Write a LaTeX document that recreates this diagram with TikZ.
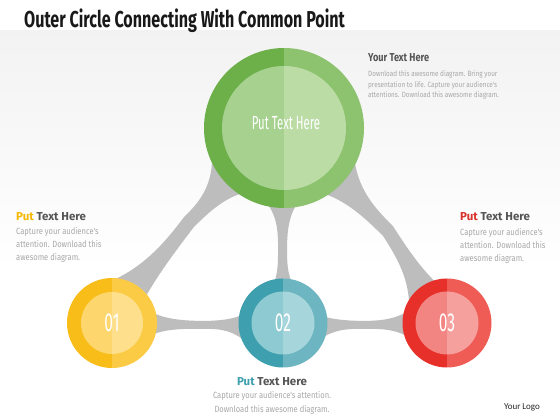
\documentclass[tikz,border=0pt]{standalone}
\usepackage{fontspec}
\setmainfont{Fira Sans}
\newfontfamily\fT[FakeStretch=0.7]{Fira Sans}
\newfontfamily\fN[FakeStretch=0.6]{Fira Sans}
\newfontfamily\fHa[FakeStretch=0.8]{Fira Sans}
\newfontfamily\fH{Fira Sans}
\newfontfamily\fB[FakeStretch=0.84]{Fira Sans}
\newfontfamily\fL{Carlito}
\usetikzlibrary{calc}
\definecolor{gOd}{HTML}{6DB04A}\definecolor{gOl}{HTML}{8DC26F}
\definecolor{gId}{HTML}{A6D18E}\definecolor{gIl}{HTML}{BCDCA6}
\definecolor{yOd}{HTML}{F8BD19}\definecolor{yOl}{HTML}{FBCB45}
\definecolor{yId}{HTML}{FDD66D}\definecolor{yIl}{HTML}{FEE08C}
\definecolor{tOd}{HTML}{3E9FAE}\definecolor{tOl}{HTML}{6DB5C0}
\definecolor{tId}{HTML}{8ECAD2}\definecolor{tIl}{HTML}{A6D5DC}
\definecolor{rOd}{HTML}{E8302A}\definecolor{rOl}{HTML}{EF5B55}
\definecolor{rId}{HTML}{F28582}\definecolor{rIl}{HTML}{F6A09D}
\definecolor{bandc}{HTML}{BDBDBD}
\definecolor{headc}{HTML}{555555}
\definecolor{bodyc}{HTML}{A8A8A8}
\definecolor{putY}{HTML}{F5B800}
\definecolor{putR}{HTML}{D9302A}
\definecolor{putT}{HTML}{3E9FAE}
\newcommand\nw{5pt}
% #1 A, #2 rA, #3 #4 angles on A, #5 B, #6 rB, #7 #8 angles on B, #9 waist centre
\newcommand\neck[9]{%
  \path (#1)+(#3:#2) coordinate (n-p1) (#1)+(#4:#2) coordinate (n-p2)
        (#5)+(#7:#6) coordinate (n-q1) (#5)+(#8:#6) coordinate (n-q2);
  \coordinate (n-w) at (#9);
  \path ($(#1)!#2pt!(n-w)$) coordinate (n-a) ($(#5)!#6pt!(n-w)$) coordinate (n-b);
  \path ($(n-w)!\nw!90:(#1)$) coordinate (n-w1) ($(n-w)!\nw!-90:(#1)$) coordinate (n-w2);
  \fill[band] (n-p1)
     .. controls ($(n-w1)+0.7*(n-a)-0.7*(n-w)$) and ($(n-w1)+0.3*(n-a)-0.3*(n-w)$) .. (n-w1)
     .. controls ($(n-w1)+0.3*(n-b)-0.3*(n-w)$) and ($(n-w1)+0.7*(n-b)-0.7*(n-w)$) .. (n-q1)
     -- (n-q2)
     .. controls ($(n-w2)+0.7*(n-b)-0.7*(n-w)$) and ($(n-w2)+0.3*(n-b)-0.3*(n-w)$) .. (n-w2)
     .. controls ($(n-w2)+0.3*(n-a)-0.3*(n-w)$) and ($(n-w2)+0.7*(n-a)-0.7*(n-w)$) .. (n-p2)
     -- cycle;
}
\newcommand\ball[7]{%
  \fill[#4] (#1) ++(90:#2) arc (90:270:#2) -- cycle;
  \fill[#5] (#1) ++(-90:#2) arc (-90:90:#2) -- cycle;
  \fill[#6] (#1) ++(90:#3) arc (90:270:#3) -- cycle;
  \fill[#7] (#1) ++(-90:#3) arc (-90:90:#3) -- cycle;
}
\begin{document}
\begin{tikzpicture}[x=1pt,y=1pt,
  band/.style={fill=bandc},
  head/.style={anchor=base west,inner sep=0,font=\fH\bfseries\fontsize{11.5}{12}\selectfont,text=headc},
  body/.style={anchor=base west,inner sep=0,font=\fB\fontsize{9}{10}\selectfont,text=bodyc},
  num/.style={inner sep=0,font=\fN\fontsize{26}{26}\selectfont,text=white}]
\useasboundingbox (0,0) rectangle (560,420);
\fill[white] (0,0) rectangle (560,420);
\shade[top color=black!5,bottom color=white] (0,150) rectangle (560,390);
\fill[white] (0,390) rectangle (560,420);

\coordinate (G) at (284,292);
\coordinate (Y) at (112,97);
\coordinate (T) at (283,97);
\coordinate (R) at (447,97);

% necks
\renewcommand\nw{7pt}
\neck{G}{78}{203}{237}{Y}{43}{88}{38}{189,198}
\renewcommand\nw{4.5pt}
\neck{G}{78}{258}{279}{T}{43}{101}{79}{282.5,170}
\renewcommand\nw{7pt}
\neck{G}{78}{302}{335}{R}{43}{152}{106}{388,189}
\renewcommand\nw{4pt}
\neck{Y}{43}{-15}{13}{T}{43}{203}{170}{203,95}
\neck{T}{43}{-19}{8}{R}{43}{197}{166}{364,95}

% circles
\ball{G}{80}{62}{gOd}{gOl}{gId}{gIl}
\ball{Y}{45}{31}{yOd}{yOl}{yId}{yIl}
\ball{T}{44.5}{31.5}{tOd}{tOl}{tId}{tIl}
\ball{R}{44.5}{31.5}{rOd}{rOl}{rId}{rIl}

\node[inner sep=0,font=\fN\fontsize{19}{19}\selectfont,text=white] (gl) at ($(G)+(2,5)$) {Put Text Here};
\node[num] (n1) at (Y) {01};
\node[num] (n2) at (T) {02};
\node[num] (n3) at (R) {03};

% title
\node[anchor=base west,inner sep=0,font=\fT\bfseries\fontsize{23}{23}\selectfont,text=black!90] (title) at (24,392) {Outer Circle Connecting With Common Point};

% top right
\node[head,font=\fHa\bfseries\fontsize{11.5}{12}\selectfont] (h0) at (368,358) {Your Text Here};
\node[body,font=\fB\fontsize{7.6}{8}\selectfont] (b01) at (368,343) {Download this awesome diagram. Bring your};
\node[body,font=\fB\fontsize{7.6}{8}\selectfont] (b02) at (368,332.5) {presentation to life. Capture your audience's};
\node[body,font=\fB\fontsize{7.6}{8}\selectfont] (b03) at (368,322) {attentions. Download this awesome diagram.};

% left
\node[head] (h1) at (16,199) {\textcolor{putY}{Put} Text Here};
\node[body] (b11) at (16,185) {Capture your audience's};
\node[body] (b12) at (16,172) {attention. Download this};
\node[body] (b13) at (16,159) {awesome diagram.};

% right
\node[head] (h3) at (460,199) {\textcolor{putR}{Put} Text Here};
\node[body] (b31) at (460,184) {Capture your audience's};
\node[body] (b32) at (460,171) {attention. Download this};
\node[body] (b33) at (460,158) {awesome diagram.};

% bottom
\node[head,anchor=base] (h2) at (272,34) {\textcolor{putT}{Put} Text Here};
\node[body,anchor=base] (b21) at (272,21) {Capture your audience's attention.};
\node[body,anchor=base] (b22) at (272,7) {Download this awesome diagram.};

\node[inner sep=0,font=\fL\fontsize{9}{9}\selectfont,text=black!85] (logo) at (522,13) {Your Logo};
\end{tikzpicture}
\end{document}
